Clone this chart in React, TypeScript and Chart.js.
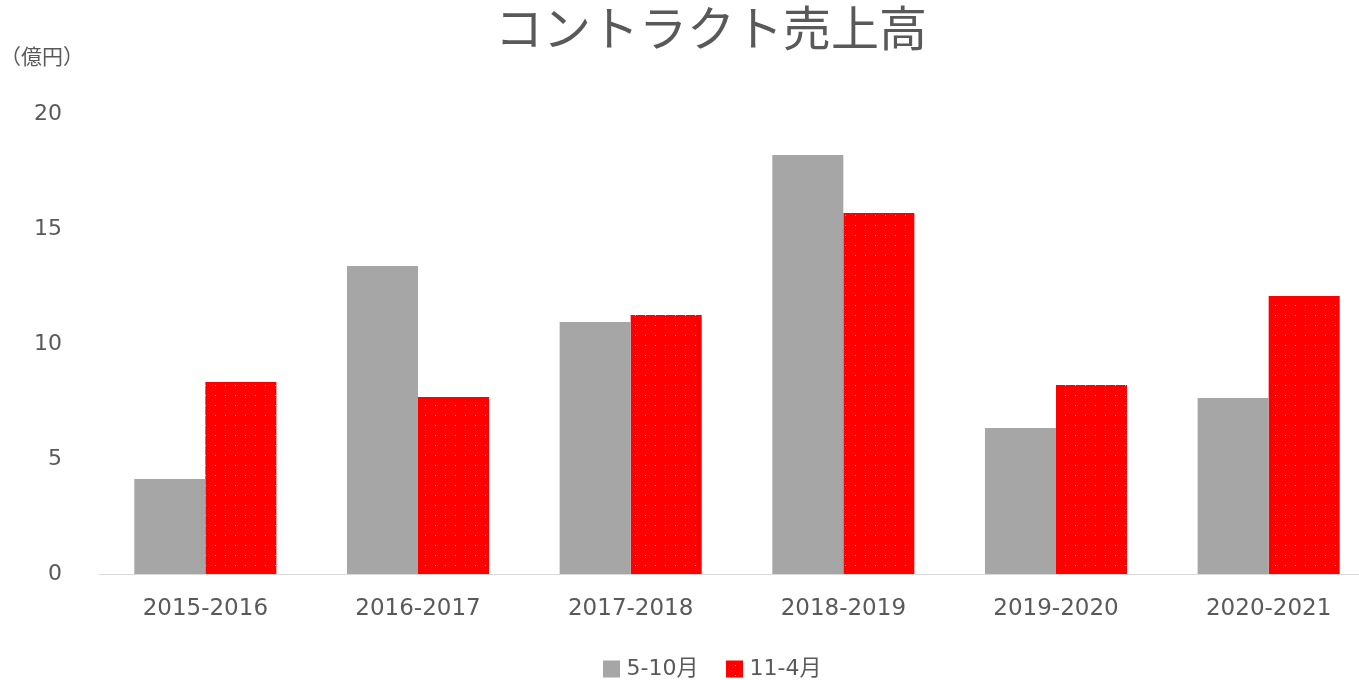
import React, { useEffect, useRef } from "react";
import { Chart, registerables } from "chart.js";

Chart.register(...registerables);

const categories = ["2015-2016", "2016-2017", "2017-2018", "2018-2019", "2019-2020", "2020-2021"];
const seriesMayOct = [4.13, 13.39, 10.96, 18.22, 6.35, 7.65];
const seriesNovApr = [8.35, 7.7, 11.26, 15.7, 8.22, 12.09];
const seriesLabels = ["5-10月", "11-4月"];
const yMin = 0;
const yMax = 20;
const yStep = 5;
const titleText = "コントラクト売上高";
const unitText = "（億円）";

const FONT = "'DejaVu Sans', 'Noto Sans CJK JP', sans-serif";
const TEXT = "#595959";
const GRAY = "#a6a6a6";
const RED = "#ff0000";
const CANVAS_W = 1375;

function makeRedPattern(): CanvasPattern | string {
  const c = document.createElement("canvas");
  c.width = 10;
  c.height = 10;
  const ctx = c.getContext("2d");
  if (!ctx) return RED;
  ctx.fillStyle = RED;
  ctx.fillRect(0, 0, 10, 10);
  ctx.fillStyle = "rgba(255,170,170,0.9)";
  ctx.fillRect(5, 5, 1, 1);
  const p = ctx.createPattern(c, "repeat");
  return p || RED;
}

const extrasPlugin = {
  id: "extras",
  afterDraw(chart: any) {
    const ctx = chart.ctx as CanvasRenderingContext2D;
    ctx.save();
    ctx.fillStyle = TEXT;
    ctx.textBaseline = "middle";
    ctx.textAlign = "center";
    ctx.font = `48px ${FONT}`;
    ctx.fillText(titleText, 711, 34);
    ctx.textAlign = "left";
    ctx.font = `21px ${FONT}`;
    ctx.fillText(unitText, 0, 59);
    ctx.font = `22px ${FONT}`;
    const box = 17;
    const gapBoxText = 7;
    const gapItems = 27;
    const widths = seriesLabels.map((l) => ctx.measureText(l).width);
    const total = widths.reduce((a, w) => a + box + gapBoxText + w, 0) + gapItems * (widths.length - 1);
    const center = 712;
    let x = center - total / 2;
    const cy = 669;
    chart.data.datasets.forEach((ds: any, i: number) => {
      ctx.fillStyle = ds.backgroundColor;
      ctx.fillRect(Math.round(x), cy - box / 2, box, box);
      x += box + gapBoxText;
      ctx.fillStyle = TEXT;
      ctx.fillText(seriesLabels[i], x, cy);
      x += widths[i] + gapItems;
    });
    ctx.restore();
  },
};

export default function App() {
  const ref = useRef<HTMLCanvasElement | null>(null);
  useEffect(() => {
    if (!ref.current) return;
    const chart = new Chart(ref.current, {
      type: "bar",
      data: {
        labels: categories,
        datasets: [
          { label: seriesLabels[0], data: seriesMayOct, backgroundColor: GRAY, categoryPercentage: 0.668, barPercentage: 1 },
          { label: seriesLabels[1], data: seriesNovApr, backgroundColor: makeRedPattern() as any, categoryPercentage: 0.668, barPercentage: 1 },
        ],
      },
      options: {
        animation: false,
        responsive: false,
        maintainAspectRatio: false,
        layout: { padding: { left: 0, right: 0, top: 114, bottom: 0 } },
        plugins: {
          legend: { display: false },
          tooltip: { enabled: false },
          title: { display: false },
        },
        scales: {
          x: {
            grid: { display: false, drawTicks: false },
            border: { display: true, color: "#d9d9d9", width: 1 },
            ticks: { color: TEXT, font: { family: FONT, size: 23 }, padding: 21, maxRotation: 0 },
            afterFit: (s: any) => {
              s.height = 106;
            },
          },
          y: {
            min: yMin,
            max: yMax,
            grid: { display: false, drawTicks: false },
            border: { display: false },
            ticks: { stepSize: yStep, color: TEXT, font: { family: FONT, size: 22 }, padding: 37 },
            afterFit: (s: any) => {
              s.width = 99;
            },
          },
        },
      },
      plugins: [extrasPlugin],
    });
    return () => chart.destroy();
  }, []);
  return (
    <div style={{ position: "fixed", left: 0, top: 0, width: 1359, height: 680, overflow: "hidden", background: "#fff" }}>
      <canvas ref={ref} width={CANVAS_W} height={680} style={{ width: CANVAS_W, height: 680, display: "block" }} />
    </div>
  );
}
